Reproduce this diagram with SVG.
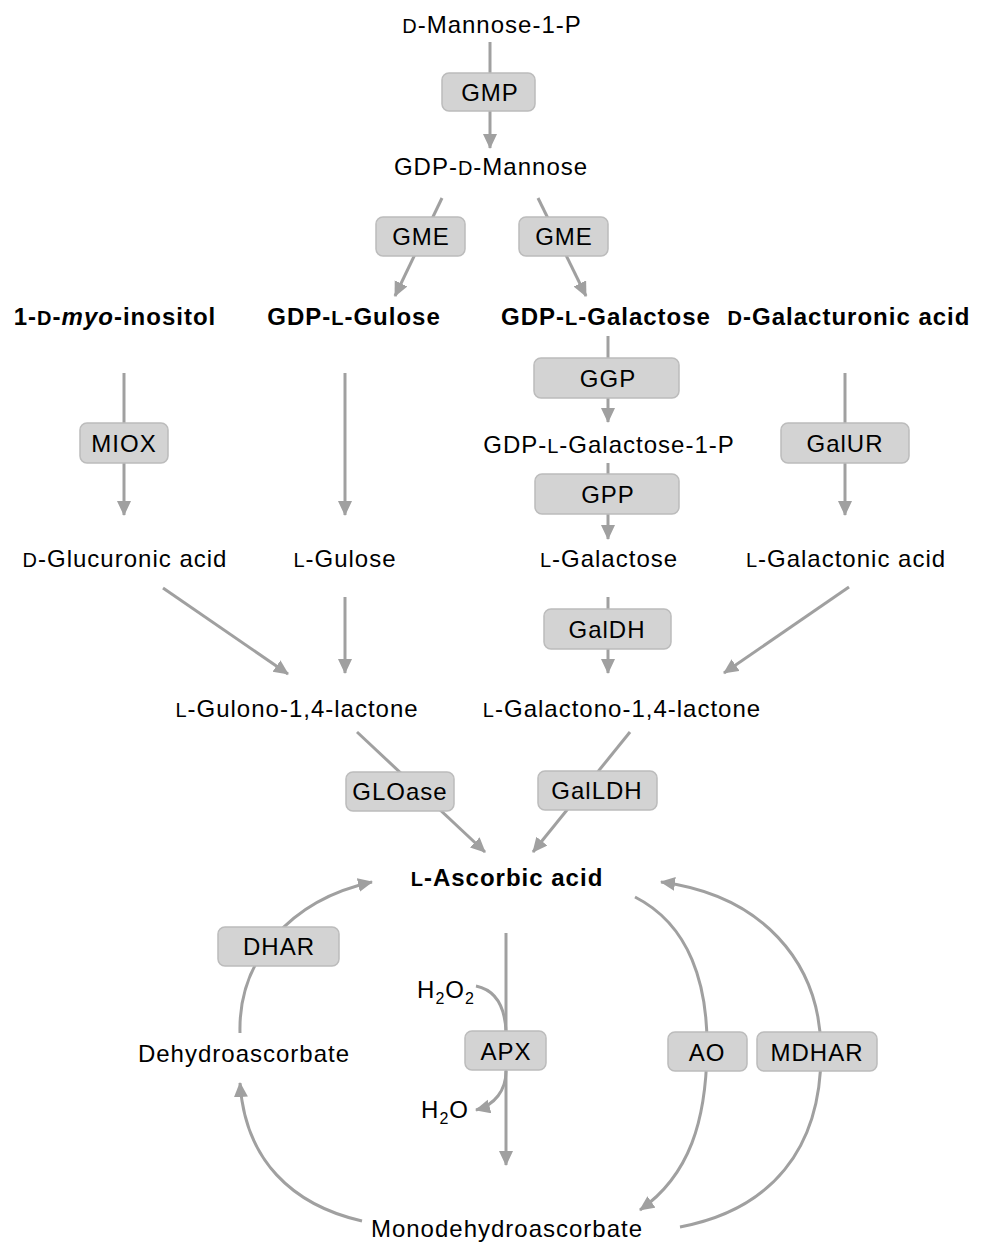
<svg xmlns="http://www.w3.org/2000/svg" width="982" height="1242" viewBox="0 0 982 1242">
<defs>
<marker id="ah" markerUnits="userSpaceOnUse" markerWidth="16" markerHeight="16" refX="14" refY="7" orient="auto">
<path d="M0,0 L15,7 L0,14 z" fill="#a0a0a0"/>
</marker>
<style>
text{font-family:"Liberation Sans",Arial,sans-serif;font-size:24px;letter-spacing:1px;fill:#000;text-anchor:middle}
.b{font-weight:bold}
.sc{font-size:20px}
.sub{font-size:16px}
.box{fill:#d3d3d3;stroke:#bcbcbc;stroke-width:1.5}
.ln{fill:none;stroke:#a0a0a0;stroke-width:3}
.ar{fill:none;stroke:#a0a0a0;stroke-width:3;marker-end:url(#ah)}
</style>
</defs>
<rect width="982" height="1242" fill="#fff"/>
<g id="connectors">
<line class="ln" x1="490" y1="42" x2="490" y2="73"/>
<line class="ar" x1="490" y1="111" x2="490" y2="148"/>
<line class="ar" x1="442" y1="198" x2="395" y2="296"/>
<line class="ar" x1="538" y1="198" x2="586" y2="296"/>
<line class="ar" x1="124" y1="373" x2="124" y2="515"/>
<line class="ar" x1="345" y1="373" x2="345" y2="515"/>
<line class="ln" x1="608" y1="336" x2="608" y2="358"/>
<line class="ar" x1="608" y1="398" x2="608" y2="422"/>
<line class="ln" x1="608" y1="463" x2="608" y2="474"/>
<line class="ar" x1="608" y1="514" x2="608" y2="539"/>
<line class="ar" x1="845" y1="373" x2="845" y2="515"/>
<line class="ar" x1="345" y1="597" x2="345" y2="673"/>
<line class="ar" x1="163" y1="588" x2="288" y2="674"/>
<line class="ln" x1="608" y1="597" x2="608" y2="609"/>
<line class="ar" x1="608" y1="649" x2="608" y2="673"/>
<line class="ar" x1="849" y1="587" x2="724" y2="673"/>
<line class="ar" x1="357" y1="732" x2="485" y2="852"/>
<line class="ar" x1="630" y1="732" x2="533" y2="852"/>
<path class="ar" d="M240,1033 C238,960 290,900 372,882"/>
<path class="ar" d="M362,1221 C292,1205 245,1160 240,1083"/>
<line class="ar" x1="506" y1="933" x2="506" y2="1165"/>
<path class="ln" d="M476,986 C495,990 505,1005 506,1032"/>
<path class="ar" d="M506,1071 C506,1090 495,1105 476,1110"/>
<path class="ar" d="M635,897 C690,925 708,985 707,1050 C706,1120 690,1175 640,1210"/>
<path class="ar" d="M680,1227 C770,1210 822,1150 821,1050 C820,960 760,895 661,882"/>
</g>
<g id="n-mannose1p"><text x="492" y="33"><tspan class="sc">D</tspan>-Mannose-1-P</text></g>
<g id="e-gmp"><rect class="box" x="442" y="73" width="93" height="38" rx="7"/><text x="490" y="101">GMP</text></g>
<g id="n-gdpmannose"><text x="491" y="175">GDP-<tspan class="sc">D</tspan>-Mannose</text></g>
<g id="e-gme1"><rect class="box" x="376" y="217" width="89" height="39" rx="7"/><text x="421" y="245">GME</text></g>
<g id="e-gme2"><rect class="box" x="519" y="217" width="89" height="39" rx="7"/><text x="564" y="245">GME</text></g>
<g id="n-inositol"><text class="b" x="115" y="325">1-<tspan class="sc">D</tspan>-<tspan font-style="italic">myo</tspan>-inositol</text></g>
<g id="n-gdpgulose"><text class="b" x="354" y="325">GDP-<tspan class="sc">L</tspan>-Gulose</text></g>
<g id="n-gdpgalactose"><text class="b" x="606" y="325">GDP-<tspan class="sc">L</tspan>-Galactose</text></g>
<g id="n-galacturonic"><text class="b" x="849" y="325"><tspan class="sc">D</tspan>-Galacturonic acid</text></g>
<g id="e-miox"><rect class="box" x="80" y="423" width="88" height="40" rx="7"/><text x="124" y="452">MIOX</text></g>
<g id="e-ggp"><rect class="box" x="534" y="358" width="145" height="40" rx="7"/><text x="608" y="387">GGP</text></g>
<g id="n-gdpgal1p"><text x="609" y="453">GDP-<tspan class="sc">L</tspan>-Galactose-1-P</text></g>
<g id="e-gpp"><rect class="box" x="535" y="474" width="144" height="40" rx="7"/><text x="608" y="503">GPP</text></g>
<g id="e-galur"><rect class="box" x="781" y="423" width="128" height="40" rx="7"/><text x="845" y="452">GalUR</text></g>
<g id="n-glucuronic"><text x="125" y="567"><tspan class="sc">D</tspan>-Glucuronic acid</text></g>
<g id="n-gulose"><text x="345" y="567"><tspan class="sc">L</tspan>-Gulose</text></g>
<g id="n-galactose"><text x="609" y="567"><tspan class="sc">L</tspan>-Galactose</text></g>
<g id="n-galactonic"><text x="846" y="567"><tspan class="sc">L</tspan>-Galactonic acid</text></g>
<g id="e-galdh"><rect class="box" x="544" y="609" width="127" height="40" rx="7"/><text x="607" y="638">GalDH</text></g>
<g id="n-gulonolactone"><text x="297" y="717"><tspan class="sc">L</tspan>-Gulono-1,4-lactone</text></g>
<g id="n-galactonolactone"><text x="622" y="717"><tspan class="sc">L</tspan>-Galactono-1,4-lactone</text></g>
<g id="e-gloase"><rect class="box" x="346" y="772" width="108" height="39" rx="7"/><text x="400" y="800">GLOase</text></g>
<g id="e-galldh"><rect class="box" x="538" y="771" width="119" height="39" rx="7"/><text x="597" y="799">GalLDH</text></g>
<g id="n-ascorbic"><text class="b" x="507" y="886"><tspan class="sc">L</tspan>-Ascorbic acid</text></g>
<g id="e-dhar"><rect class="box" x="218" y="927" width="121" height="39" rx="7"/><text x="279" y="955">DHAR</text></g>
<g id="n-h2o2"><text x="446" y="998">H<tspan class="sub" dy="6">2</tspan><tspan dy="-6">O</tspan><tspan class="sub" dy="6">2</tspan></text></g>
<g id="e-apx"><rect class="box" x="465" y="1031" width="81" height="39" rx="7"/><text x="506" y="1060">APX</text></g>
<g id="n-h2o"><text x="445" y="1118">H<tspan class="sub" dy="6">2</tspan><tspan dy="-6">O</tspan></text></g>
<g id="e-ao"><rect class="box" x="668" y="1032" width="79" height="39" rx="7"/><text x="707" y="1061">AO</text></g>
<g id="e-mdhar"><rect class="box" x="757" y="1032" width="120" height="39" rx="7"/><text x="817" y="1061">MDHAR</text></g>
<g id="n-dehydro"><text x="244" y="1062">Dehydroascorbate</text></g>
<g id="n-monodehydro"><text x="507" y="1237">Monodehydroascorbate</text></g>
</svg>
